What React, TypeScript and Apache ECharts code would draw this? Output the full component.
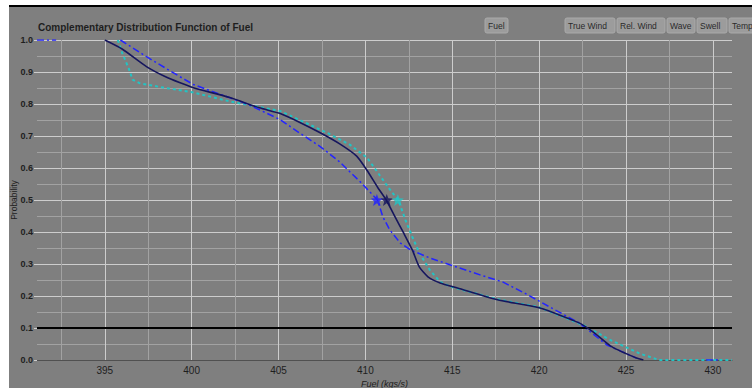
import React, { useEffect, useRef } from "react";
import * as echarts from "echarts";

// ---- Data ----
const navyX = [395.0, 396.0, 397.4, 398.5, 399.3, 400.1, 402.2, 403.9, 405.1, 406.2, 407.4, 408.5, 409.5, 410.1, 410.7, 411.2, 411.7, 412.2, 412.7, 413.1, 413.6, 414.3, 415.3, 417.6, 420.0, 422.3, 423.1, 424.2, 425.6, 426.0];
const navyY = [1.0, 0.972, 0.917, 0.885, 0.867, 0.851, 0.82, 0.788, 0.77, 0.743, 0.71, 0.676, 0.637, 0.592, 0.54, 0.5, 0.448, 0.397, 0.344, 0.291, 0.26, 0.241, 0.225, 0.188, 0.163, 0.116, 0.088, 0.041, 0.006, 0];

const cyanX = [395.75, 396.0, 396.4, 396.6, 397.0, 398.3, 400.1, 402.2, 405.1, 406.4, 407.8, 409.1, 410.1, 410.8, 411.5, 411.9, 412.3, 412.7, 413.1, 413.7, 414.3, 414.9, 417.6, 420.0, 422.7, 424.0, 425.8, 426.9, 431.1];
const cyanY = [1.0, 0.96, 0.908, 0.876, 0.865, 0.852, 0.836, 0.808, 0.778, 0.745, 0.71, 0.673, 0.632, 0.579, 0.526, 0.5, 0.438, 0.385, 0.335, 0.282, 0.244, 0.229, 0.19, 0.165, 0.105, 0.065, 0.02, 0, 0];

// null marks a gap in the drawn line
const blueX = [391.1, 392.2, null, 395.9, 397.4, 399.3, 400.1, 401.2, 403.2, 403.9, 405.1, 406.2, 407.4, 408.5, 409.7, 410.7, 411.0, 411.4, 412.0, 412.6, 413.7, 414.9, 416.6, 417.9, 419.3, 420.8, 422.3, 423.9, 425.6, null, 429.6, 430.4];
const blueY = [1.0, 1.0, null, 1.0, 0.948, 0.886, 0.861, 0.839, 0.8, 0.782, 0.751, 0.71, 0.667, 0.62, 0.557, 0.5, 0.448, 0.407, 0.366, 0.344, 0.319, 0.297, 0.266, 0.244, 0.205, 0.16, 0.116, 0.047, 0.006, null, 0, 0];

// median markers (stars) at probability 0.5
const starX = [410.66, 411.23, 411.87];
const starY = [0.5, 0.5, 0.5];
const starColors = ["#1f1fff", "#14145e", "#22c4c4"];

const thresholdY = 0.1;

const xTickValues = [392.5, 395, 397.5, 400, 402.5, 405, 407.5, 410, 412.5, 415, 417.5, 420, 422.5, 425, 427.5, 430];
const xLabelValues = [395, 400, 405, 410, 415, 420, 425, 430];

const buttons = ["Fuel", "True Wind", "Rel. Wind", "Wave", "Swell", "Temp"];

const STAR = "path://M12,1 L14.9,8.6 L23,8.9 L16.7,14 L18.9,22 L12,17.4 L5.1,22 L7.3,14 L1,8.9 L9.1,8.6 Z";

const toData = (xs: (number | null)[], ys: (number | null)[]) =>
  xs.map((x, i) => (x === null || ys[i] === null ? "-" : [x, ys[i]]));

export default function App() {
  const ref = useRef<HTMLDivElement>(null);
  useEffect(() => {
    if (!ref.current) return;
    const chart = echarts.init(ref.current, undefined, { renderer: "svg" });
    const font = "Liberation Sans";
    const btnLayout = [
      { x: 485, w: 23 },
      { x: 565, w: 50 },
      { x: 617, w: 48 },
      { x: 667, w: 28 },
      { x: 697, w: 30 },
      { x: 729, w: 30 },
    ];
    const graphic: any[] = [
      { type: "rect", shape: { x: 0, y: 0, width: 9, height: 388 }, style: { fill: "#ffffff" }, silent: true },
      { type: "rect", shape: { x: 0, y: 0, width: 752, height: 5 }, style: { fill: "#ffffff" }, silent: true },
      { type: "rect", shape: { x: 9, y: 5, width: 743, height: 2 }, style: { fill: "#000000" }, silent: true },
    ];
    buttons.forEach((b, i) => {
      const l = btnLayout[i];
      graphic.push({
        type: "group",
        x: l.x,
        y: 18,
        children: [
          { type: "rect", shape: { x: 0, y: 0, width: l.w, height: 15, r: 2 }, style: { fill: "#9c9c9c", stroke: "#aaaaaa", lineWidth: 1 } },
          {
            type: "text",
            x: 3,
            y: 7.5,
            style: { text: b, fill: "#2a2a2a", font: `8.5px ${font}`, verticalAlign: "middle", align: "left" },
          },
        ],
      });
    });

    chart.setOption({
      animation: false,
      backgroundColor: "#7f7f7f",
      title: {
        text: "Complementary Distribution Function of Fuel",
        left: 33,
        top: 17,
        textStyle: { fontFamily: font, fontSize: 10, fontWeight: "bold", color: "#1e1e1e" },
      },
      grid: { left: 37, right: 20, top: 40, bottom: 28, containLabel: false, outerBoundsMode: "none" },
      xAxis: {
        type: "value",
        min: 391.1,
        max: 431.1,
        name: "Fuel (kgs/s)",
        nameLocation: "middle",
        nameGap: 18,
        nameTextStyle: { fontFamily: font, fontSize: 9, fontStyle: "italic", color: "#1e1e1e" },
        axisLine: { show: true, lineStyle: { color: "#505050", width: 1 } },
        axisTick: { show: false, customValues: xTickValues },
        axisLabel: {
          customValues: xLabelValues,
          fontFamily: font,
          fontSize: 10,
          color: "#1e1e1e",
          margin: 5,
        },
        splitLine: { show: true, lineStyle: { color: ["#a2a2a2", "#cdcdcd"], width: 1 } },
      },
      yAxis: {
        type: "value",
        min: 0,
        max: 1,
        interval: 0.1,
        name: "Probability",
        nameLocation: "middle",
        nameGap: 19,
        nameTextStyle: { fontFamily: font, fontSize: 8.5, color: "#1e1e1e" },
        nameMoveOverlap: false,
        axisLine: { show: false },
        axisTick: { show: true, length: 3, lineStyle: { color: "#cdcdcd" } },
        axisLabel: {
          formatter: (v: number) => v.toFixed(1),
          fontFamily: font,
          fontSize: 9,
          fontWeight: "bold",
          color: "#1e1e1e",
          margin: 4,
        },
        splitLine: { show: true, lineStyle: { color: "#cdcdcd", width: 1 } },
        minorTick: { show: false, splitNumber: 2 },
        minorSplitLine: { show: true, lineStyle: { color: "#a2a2a2", width: 1 } },
      },
      graphic,
      series: [
        {
          type: "line",
          data: toData(cyanX, cyanY),
          showSymbol: false,
          symbol: "none",
          lineStyle: { color: "#22c4c4", width: 2, type: [3, 3] },
          z: 3,
        },
        {
          type: "line",
          data: toData(blueX, blueY),
          showSymbol: false,
          symbol: "none",
          connectNulls: false,
          lineStyle: { color: "#2424ff", width: 1.5, type: [7, 3, 2, 3] },
          z: 4,
        },
        {
          type: "line",
          data: toData(navyX, navyY),
          showSymbol: false,
          symbol: "none",
          smooth: 0.2,
          lineStyle: { color: "#16165e", width: 1.6, type: "solid" },
          z: 5,
          markLine: {
            silent: true,
            symbol: "none",
            label: { show: false },
            lineStyle: { color: "#000000", width: 2, type: "solid" },
            data: [{ yAxis: thresholdY }],
          },
        },
        {
          type: "scatter",
          symbol: STAR,
          symbolSize: 12,
          z: 6,
          data: starX.map((x, i) => ({ value: [x, starY[i]], itemStyle: { color: starColors[i] } })),
        },
      ],
    });
    return () => chart.dispose();
  }, []);
  return (
    <div
      ref={ref}
      style={{ position: "absolute", left: 0, top: 0, width: 752, height: 388 }}
    />
  );
}
